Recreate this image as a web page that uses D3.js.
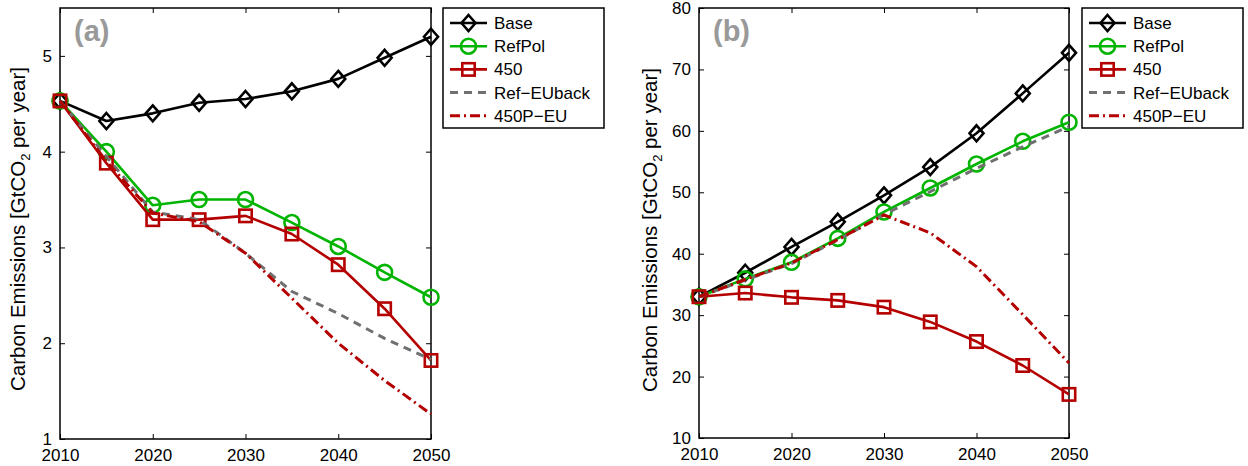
<!DOCTYPE html>
<html>
<head>
<meta charset="utf-8">
<script src="https://cdn.jsdelivr.net/npm/d3@7"></script>
<style>
  body { margin: 0; background: #fff; }
  svg { display: block; font-family: "Liberation Sans", Arial, Helvetica, sans-serif; }
</style>
</head>
<body>
<svg id="chart" width="1248" height="466"></svg>
<script>
// data
var years = [2010, 2015, 2020, 2025, 2030, 2035, 2040, 2045, 2050];

var baseA      = [4.53, 4.32, 4.40, 4.51, 4.55, 4.63, 4.76, 4.98, 5.20];
var refPolA    = [4.53, 4.00, 3.44, 3.50, 3.50, 3.26, 3.01, 2.74, 2.48];
var p450A      = [4.53, 3.88, 3.29, 3.29, 3.33, 3.14, 2.82, 2.36, 1.82];
var refEUbackA = [4.53, 3.95, 3.37, 3.29, 2.94, 2.54, 2.31, 2.05, 1.83];
var p450PEUA   = [4.53, 3.90, 3.36, 3.27, 2.94, 2.47, 2.00, 1.61, 1.26];

var baseB      = [33.0, 36.9, 41.1, 45.2, 49.5, 54.1, 59.6, 66.1, 72.7];
var refPolB    = [33.0, 35.9, 38.6, 42.5, 46.8, 50.7, 54.6, 58.3, 61.4];
var p450B      = [33.0, 33.6, 32.9, 32.4, 31.3, 28.9, 25.7, 21.8, 17.1];
var refEUbackB = [33.0, 35.7, 38.4, 42.2, 46.4, 50.1, 53.9, 57.4, 60.7];
var p450PEUB   = [33.0, 35.8, 38.5, 42.3, 46.3, 43.4, 37.9, 30.1, 22.2];

var seriesNames = ['Base', 'RefPol', '450', 'Ref\u2212EUback', '450P\u2212EU'];
var xTicks = [2010, 2020, 2030, 2040, 2050];
var yTicksA = [1, 2, 3, 4, 5];
var yTicksB = [10, 20, 30, 40, 50, 60, 70, 80];

var FONT = '"Liberation Sans", Arial, Helvetica, sans-serif';

var styles = [
  { color: '#000000', width: 2.6, dash: null, marker: 'diamond' },
  { color: '#00b400', width: 2.6, dash: null, marker: 'circle' },
  { color: '#b40000', width: 2.6, dash: null, marker: 'square' },
  { color: '#707070', width: 3, dash: '8,6', marker: null },
  { color: '#b40000', width: 3, dash: '10,4,2,4', marker: null }
];

var svg = d3.select('#chart');

function drawMarker(g, type, x, y, color) {
  if (type === 'diamond') {
    g.append('path')
      .attr('d', 'M' + x + ',' + (y - 8) + 'L' + (x + 7) + ',' + y + 'L' + x + ',' + (y + 8) + 'L' + (x - 7) + ',' + y + 'Z')
      .attr('fill', 'none').attr('stroke', color).attr('stroke-width', 2.6);
  } else if (type === 'circle') {
    g.append('circle').attr('cx', x).attr('cy', y).attr('r', 7.5)
      .attr('fill', 'none').attr('stroke', color).attr('stroke-width', 2.6);
  } else if (type === 'square') {
    g.append('rect').attr('x', x - 6.2).attr('y', y - 6.2).attr('width', 12.4).attr('height', 12.4)
      .attr('fill', 'none').attr('stroke', color).attr('stroke-width', 2.6);
  }
}

function styleAxis(a) {
  a.select('.domain').remove();
  a.attr('font-family', FONT).attr('font-size', 17);
  a.selectAll('text').attr('fill', '#000');
}

function panel(opt) {
  var x = d3.scaleLinear().domain([2010, 2050]).range([opt.left, opt.right]);
  var y = d3.scaleLinear().domain(opt.yDomain).range([opt.bottom, opt.top]);
  var g = svg.append('g');

  // axes, ticks pointing inward on all four sides
  g.append('g').attr('transform', 'translate(0,' + opt.bottom + ')')
    .call(d3.axisBottom(x).tickValues(xTicks).tickFormat(d3.format('d')).tickSizeInner(-5).tickSizeOuter(0).tickPadding(10))
    .call(styleAxis);
  g.append('g').attr('transform', 'translate(0,' + opt.top + ')')
    .call(d3.axisTop(x).tickValues(xTicks).tickFormat('').tickSizeInner(-5).tickSizeOuter(0))
    .call(styleAxis);
  g.append('g').attr('transform', 'translate(' + opt.left + ',0)')
    .call(d3.axisLeft(y).tickValues(opt.yTicks).tickFormat(d3.format('d')).tickSizeInner(-5).tickSizeOuter(0).tickPadding(8))
    .call(styleAxis);
  g.append('g').attr('transform', 'translate(' + opt.right + ',0)')
    .call(d3.axisRight(y).tickValues(opt.yTicks).tickFormat('').tickSizeInner(-5).tickSizeOuter(0))
    .call(styleAxis);
  g.selectAll('.tick line').attr('stroke', '#000').attr('stroke-width', 1);

  g.append('rect').attr('x', opt.left).attr('y', opt.top)
    .attr('width', opt.right - opt.left).attr('height', opt.bottom - opt.top)
    .attr('fill', 'none').attr('stroke', '#000').attr('stroke-width', 1.5);

  // panel letter
  g.append('text').attr('x', opt.left + 14).attr('y', opt.top + 33)
    .attr('font-size', 29).attr('font-weight', 'bold').attr('fill', '#999')
    .text(opt.letter);

  // y label
  var yl = g.append('text')
    .attr('transform', 'translate(' + opt.labelX + ',' + opt.labelY + ') rotate(-90)')
    .attr('text-anchor', 'middle').attr('font-size', 20.5).attr('fill', '#000');
  yl.append('tspan').text('Carbon Emissions [GtCO');
  yl.append('tspan').attr('font-size', 13).attr('dy', 5).text('2');
  yl.append('tspan').attr('dy', -5).text(' per year]');

  var line = d3.line().x(function(d, i) { return x(years[i]); }).y(function(d) { return y(d); });
  var plot = g.append('g');
  opt.series.forEach(function(vals, k) {
    var s = styles[k];
    plot.append('path').datum(vals).attr('d', line)
      .attr('fill', 'none').attr('stroke', s.color).attr('stroke-width', s.width)
      .attr('stroke-dasharray', s.dash).attr('stroke-linejoin', 'round');
    if (s.marker) {
      vals.forEach(function(v, i) { drawMarker(plot, s.marker, x(years[i]), y(v), s.color); });
    }
  });

  // legend
  var lg = g.append('g');
  lg.append('rect').attr('x', opt.legX).attr('y', opt.top)
    .attr('width', 161).attr('height', 120)
    .attr('fill', '#fff').attr('stroke', '#000').attr('stroke-width', 1.5);
  seriesNames.forEach(function(name, k) {
    var s = styles[k];
    var ly = opt.top + 15 + k * 23.2;
    lg.append('line').attr('x1', opt.legX + 7).attr('x2', opt.legX + 44).attr('y1', ly).attr('y2', ly)
      .attr('stroke', s.color).attr('stroke-width', s.width).attr('stroke-dasharray', s.dash);
    if (s.marker) drawMarker(lg, s.marker, opt.legX + 25.5, ly, s.color);
    lg.append('text').attr('x', opt.legX + 51).attr('y', ly + 6)
      .attr('font-size', 17).attr('fill', '#000').text(name);
  });
}

panel({ left: 60, right: 431, top: 8, bottom: 439, yDomain: [1, 5.5], yTicks: yTicksA,
  letter: '(a)', labelX: 25, labelY: 229, legX: 443,
  series: [baseA, refPolA, p450A, refEUbackA, p450PEUA] });

panel({ left: 699, right: 1069, top: 8, bottom: 438, yDomain: [10, 80], yTicks: yTicksB,
  letter: '(b)', labelX: 657, labelY: 230, legX: 1082,
  series: [baseB, refPolB, p450B, refEUbackB, p450PEUB] });
</script>
</body>
</html>
